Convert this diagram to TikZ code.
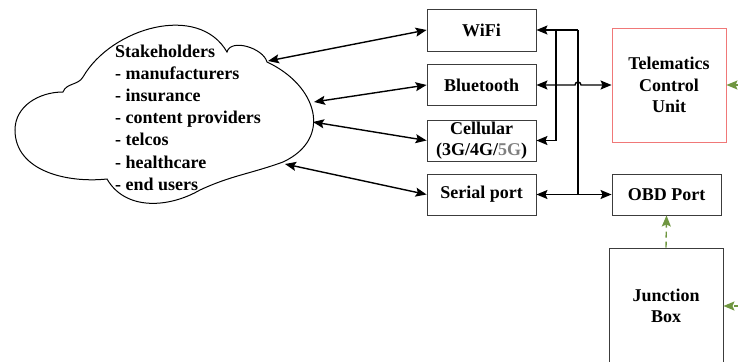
\documentclass[tikz,border=0pt]{standalone}
\usepackage{fontspec}
\setmainfont{Liberation Serif}
\usetikzlibrary{arrows.meta}
\definecolor{boxgray}{HTML}{3C3C3C}
\definecolor{tcured}{HTML}{F07878}
\definecolor{linkgreen}{HTML}{6F9640}
\definecolor{fivegray}{HTML}{7F7F7F}
\begin{document}
\begin{tikzpicture}[x=1pt,y=1pt,
  lbl/.style={font=\fontsize{18}{21.5}\selectfont\bfseries},
  blk/.style={lbl, draw=boxgray, line width=0.9pt, align=center, inner sep=0pt},
  link/.style={line width=1.4pt, {Stealth[length=11pt,width=9pt,inset=2pt]}-{Stealth[length=11pt,width=9pt,inset=2pt]}},
  wire/.style={line width=1.4pt},
  feed/.style={line width=1.4pt, draw=linkgreen, dash pattern=on 6pt off 4pt,
    -{Stealth[length=11pt,width=9pt,inset=2pt]}, color=linkgreen},
]
\useasboundingbox (0,0) rectangle (738,-361);

% stakeholder cloud
\draw[line width=1pt]
  (83,-77) to[out=60,in=120] (227,-52)
  to[out=75,in=105,looseness=0.9] (267,-62)
  to[out=-25,in=25,looseness=1.4] (283,-162)
  to[out=-160,in=25] (200,-190)
  to[out=-150,in=-60] (107,-179)
  to[out=186,in=-90] (15,-130)
  to[out=90,in=180] (63,-92)
  to[out=70,in=-120] cycle;
\node[lbl, font=\fontsize{18}{22.2}\selectfont\bfseries, align=left, anchor=north west, inner sep=0pt] (stake) at (115,-44.5)
  {Stakeholders\\- manufacturers\\- insurance\\- content providers\\- telcos\\- healthcare\\- end users};

\coordinate (c1) at (268,-61);
\coordinate (c2) at (314,-102);
\coordinate (c3) at (313,-122);
\coordinate (c4) at (285,-164);

% interface boxes
\node[blk, minimum width=109pt, minimum height=42pt] (wifi) at (481.5,-30) {WiFi};
\node[blk, minimum width=109pt, minimum height=41pt] (bt) at (481.5,-85) {Bluetooth};
\node[blk, minimum width=109pt, minimum height=41pt] (cell) at (481.5,-140.5)
  {Cellular\\(3G/4G/\textcolor{fivegray}{5G})};
\node[blk, minimum width=109pt, minimum height=41pt] (serial) at (481.5,-194.5) {Serial port};

% vehicle side
\node[blk, draw=tcured, minimum width=114pt, minimum height=114pt] (tcu) at (669,-85)
  {Telematics\\Control\\Unit};
\node[blk, minimum width=109pt, minimum height=41pt] (obd) at (666.5,-194.5) {OBD Port};
\node[blk, minimum width=114pt, minimum height=116pt] (jbox) at (666,-306) {Junction\\Box};

% cloud to interfaces
\draw[link] (c1) -- (wifi.west);
\draw[link] (c2) -- (bt.west);
\draw[link] (c3) -- (cell.west);
\draw[link] (c4) -- (serial.west);

% internal wiring
\coordinate (busA) at (556,-30);
\coordinate (busB) at (578,-30);
\coordinate (busAlow) at (556,-140.5);
\coordinate (busBlow) at (578,-194.5);
\draw[wire, -{Stealth[length=11pt,width=9pt,inset=2pt]}] (busB) -- (wifi.east);
\draw[wire, -{Stealth[length=11pt,width=9pt,inset=2pt]}] (busA) -- (busAlow) -- (cell.east);
\draw[wire] (busB) -- (busBlow);
\draw[link] (bt.east) -- (575,-85) arc[start angle=180, end angle=0, radius=3] -- (tcu.west);
\draw[link] (serial.east) -- (obd.west);

% green feeds
\coordinate (tcuin) at (760,-85);
\coordinate (jboxin) at (760,-306);
\draw[feed] (jbox.north) -- (obd.south);
\draw[feed] (tcuin) -- (tcu.east);
\draw[feed] (jboxin) -- (jbox.east);
\end{tikzpicture}
\end{document}
